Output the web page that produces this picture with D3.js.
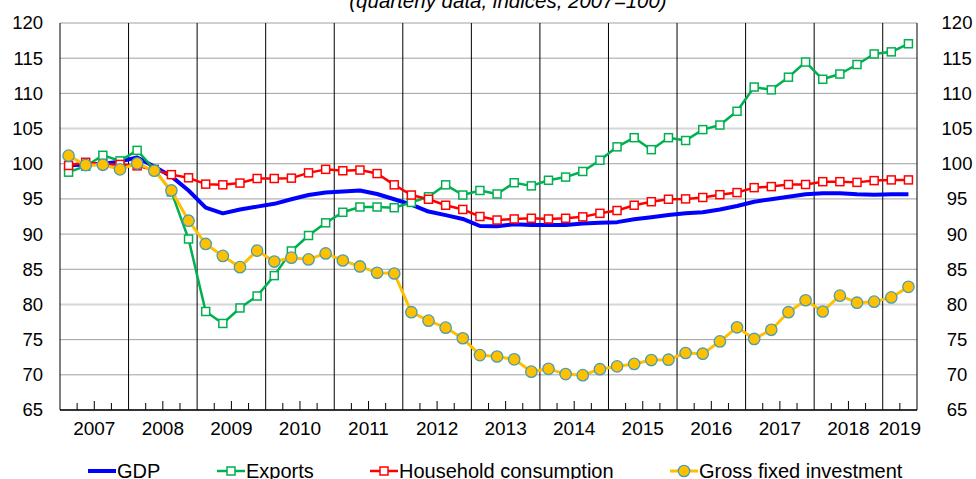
<!DOCTYPE html>
<html>
<head>
<meta charset="utf-8">
<script src="https://cdn.jsdelivr.net/npm/d3@7"></script>
<style>
  body { margin: 0; background: #fff; }
  svg { display: block; font-family: "Liberation Sans", Arial, sans-serif; }
</style>
</head>
<body>
<svg id="chart" width="976" height="479"></svg>
<script>
// quarterly indices, 2007=100
const years = ["2007", "2008", "2009", "2010", "2011", "2012", "2013", "2014", "2015", "2016", "2017", "2018", "2019"];
const quarters = years.flatMap((y) => (y === "2019" ? ["Q1", "Q2"] : ["Q1", "Q2", "Q3", "Q4"]).map((q) => y + q));
const yTicks = [65, 70, 75, 80, 85, 90, 95, 100, 105, 110, 115, 120];

const gdp = [99.8, 99.9, 100.0, 100.3, 100.9, 99.6, 98.2, 96.2, 93.75, 92.95, 93.5, 93.9,
  94.3, 94.95, 95.55, 95.9, 96.05, 96.2, 95.7, 94.95, 94.2, 93.2, 92.7, 92.15,
  91.15, 91.1, 91.4, 91.3, 91.3, 91.3, 91.5, 91.6, 91.7, 92.1, 92.4, 92.7,
  92.95, 93.1, 93.5, 94.0, 94.6, 94.95, 95.3, 95.65, 95.8, 95.8, 95.65, 95.6, 95.65, 95.65];
const exportsIdx = [98.8, 99.65, 101.2, 100.4, 101.9, 99.2, 96.0, 89.3, 79.0, 77.3, 79.5, 81.2,
  84.1, 87.6, 89.8, 91.6, 93.1, 93.85, 93.85, 93.75, 94.5, 95.3, 97.0, 95.55,
  96.2, 95.7, 97.3, 96.85, 97.65, 98.1, 98.9, 100.5, 102.4, 103.7, 102.0, 103.7,
  103.3, 104.85, 105.5, 107.45, 110.9, 110.5, 112.3, 114.45, 112.0, 112.75, 114.1, 115.6, 115.9, 117.05];
const household = [99.75, 100.2, 99.9, 99.9, 99.7, 99.1, 98.45, 98.0, 97.1, 97.0, 97.25, 97.9,
  97.9, 97.95, 98.7, 99.2, 99.0, 99.1, 98.6, 97.0, 95.55, 94.95, 94.1, 93.5,
  92.5, 92.0, 92.15, 92.25, 92.15, 92.25, 92.45, 92.95, 93.35, 94.1, 94.6, 94.95,
  95.0, 95.2, 95.6, 95.9, 96.6, 96.75, 97.05, 97.05, 97.45, 97.45, 97.35, 97.6, 97.7, 97.7];
const investment = [101.15, 99.8, 99.85, 99.2, 100.05, 99.0, 96.2, 91.9, 88.6, 86.9, 85.3, 87.65,
  86.1, 86.65, 86.4, 87.25, 86.25, 85.4, 84.5, 84.4, 78.9, 77.7, 76.7, 75.2,
  72.8, 72.6, 72.2, 70.45, 70.85, 70.1, 69.95, 70.8, 71.2, 71.55, 72.1, 72.15,
  73.1, 73.0, 74.75, 76.75, 75.1, 76.4, 78.9, 80.6, 79.0, 81.25, 80.25, 80.4, 81.0, 82.5];

const series = [
  {name: "GDP", values: gdp, color: "#0000ff", width: 4, marker: null},
  {name: "Exports", values: exportsIdx, color: "#00b050", width: 2.5, marker: "square"},
  {name: "Household consumption", values: household, color: "#ff0000", width: 2.5, marker: "square"},
  {name: "Gross fixed investment", values: investment, color: "#ffc000", width: 3, marker: "circle"},
];

const svg = d3.select("#chart"),
  plotLeft = 60, plotRight = 917, plotTop = 23, plotBottom = 410;

const x = d3.scaleBand().domain(quarters).range([plotLeft, plotRight]);
const y = d3.scaleLinear().domain([65, 120]).range([plotBottom, plotTop]);
const cx = (i) => x(quarters[i]) + x.bandwidth() / 2;

// horizontal grid
svg.append("g")
  .selectAll("line")
  .data(yTicks)
  .enter()
  .append("line")
  .attr("x1", plotLeft).attr("x2", plotRight)
  .attr("y1", (d) => y(d)).attr("y2", (d) => y(d))
  .attr("stroke", (d) => (d === 80 || d === 105 ? "#d6d6d6" : "#a0a0a0"))
  .attr("stroke-width", (d) => (d === 80 || d === 105 ? 2 : 1));

// year separators
const yearStarts = quarters.filter((q) => q.endsWith("Q1") && q !== "2007Q1");
svg.append("g")
  .selectAll("line")
  .data(yearStarts)
  .enter()
  .append("line")
  .attr("x1", (d) => x(d)).attr("x2", (d) => x(d))
  .attr("y1", plotTop).attr("y2", plotBottom)
  .attr("stroke", "#000").attr("stroke-width", 1);

// quarter ticks
const minor = quarters.filter((q) => !q.endsWith("Q1"));
svg.append("g")
  .selectAll("line")
  .data(minor)
  .enter()
  .append("line")
  .attr("x1", (d) => x(d)).attr("x2", (d) => x(d))
  .attr("y1", (d) => plotBottom - (d.endsWith("Q3") ? 9 : 7)).attr("y2", plotBottom)
  .attr("stroke", "#000").attr("stroke-width", 1);

// frame
svg.append("line").attr("x1", plotLeft).attr("x2", plotLeft).attr("y1", plotTop).attr("y2", plotBottom).attr("stroke", "#000");
svg.append("line").attr("x1", plotRight).attr("x2", plotRight).attr("y1", plotTop).attr("y2", plotBottom).attr("stroke", "#000");
svg.append("line").attr("x1", plotLeft).attr("x2", plotRight).attr("y1", plotBottom).attr("y2", plotBottom).attr("stroke", "#000").attr("stroke-width", 1.5);

// y labels, both sides
svg.append("g")
  .selectAll("text")
  .data(yTicks)
  .enter()
  .append("text")
  .attr("x", 43).attr("y", (d) => y(d)).attr("dy", "0.35em")
  .attr("text-anchor", "end")
  .style("font-size", "18.5px")
  .text((d) => d);
svg.append("g")
  .selectAll("text")
  .data(yTicks)
  .enter()
  .append("text")
  .attr("x", 957).attr("y", (d) => y(d)).attr("dy", "0.35em")
  .attr("text-anchor", "middle")
  .style("font-size", "18.5px")
  .text((d) => d);

// year labels, centred under each year's quarters
svg.append("g")
  .selectAll("text")
  .data(years)
  .enter()
  .append("text")
  .attr("x", (yr) => {
    const qs = quarters.filter((q) => q.startsWith(yr));
    return (x(qs[0]) + x(qs[qs.length - 1]) + x.bandwidth()) / 2;
  })
  .attr("y", 435)
  .attr("text-anchor", "middle")
  .style("font-size", "19px")
  .text((d) => d);

// title
svg.append("text")
  .attr("x", 508).attr("y", 7.5)
  .attr("text-anchor", "middle")
  .style("font-size", "20.5px")
  .style("font-style", "italic")
  .text("(quarterly data, indices, 2007=100)");

// series
const line = d3.line().x((d, i) => cx(i)).y((d) => y(d));

function drawMarkers(g, s, data) {
  if (s.marker === "square") {
    g.selectAll("rect")
      .data(data)
      .enter()
      .append("rect")
      .attr("x", (d) => d.x - 4).attr("y", (d) => d.y - 4)
      .attr("width", 8).attr("height", 8)
      .attr("fill", "#fff")
      .attr("stroke", s.color).attr("stroke-width", 1.5);
  } else if (s.marker === "circle") {
    g.selectAll("circle")
      .data(data)
      .enter()
      .append("circle")
      .attr("cx", (d) => d.x).attr("cy", (d) => d.y)
      .attr("r", 5.7)
      .attr("fill", s.color)
      .attr("stroke", "#4a9db2").attr("stroke-width", 1.3);
  }
}

series.forEach((s) => {
  const g = svg.append("g");
  g.append("path")
    .attr("d", line(s.values))
    .attr("fill", "none")
    .attr("stroke", s.color)
    .attr("stroke-width", s.width)
    .attr("stroke-linejoin", "round");
  drawMarkers(g, s, s.values.map((v, i) => ({x: cx(i), y: y(v)})));
});

// legend
const legendX = [88, 217, 370, 670];
const legendY = 471;
series.forEach((s, i) => {
  const g = svg.append("g");
  g.append("line")
    .attr("x1", legendX[i]).attr("x2", legendX[i] + 28)
    .attr("y1", legendY).attr("y2", legendY)
    .attr("stroke", s.color).attr("stroke-width", s.width);
  drawMarkers(g, s, [{x: legendX[i] + 14, y: legendY}]);
  g.append("text")
    .attr("x", legendX[i] + 29).attr("y", 477.5)
    .style("font-size", "20px")
    .text(s.name);
});
</script>
</body>
</html>
